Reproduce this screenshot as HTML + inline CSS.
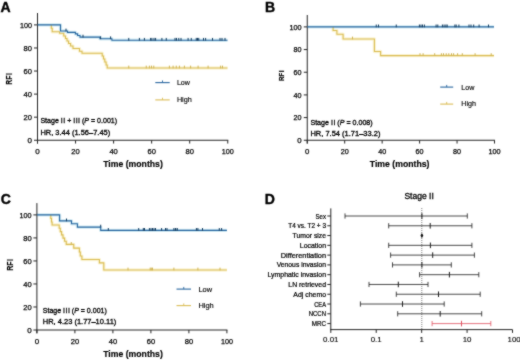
<!DOCTYPE html>
<html><head><meta charset="utf-8"><style>
html,body{margin:0;padding:0;background:#fff;width:520px;height:360px;overflow:hidden;}
svg{display:block;font-family:"Liberation Sans", sans-serif;will-change:transform;}
</style></head><body>
<svg width="520" height="360" viewBox="0 0 520 360">
<defs><filter id="soft" x="0" y="0" width="520" height="360" filterUnits="userSpaceOnUse" color-interpolation-filters="sRGB"><feConvolveMatrix order="3" kernelMatrix="1 2 1 2 16 2 1 2 1" divisor="28" edgeMode="duplicate" preserveAlpha="false"/></filter></defs>
<rect width="520" height="360" fill="#fff"/>
<g filter="url(#soft)">
<rect width="520" height="360" fill="#fff"/>
<polyline points="51.3,24.9 51.3,28.3 52.2,28.3 52.2,31.7 59.6,31.7 59.6,33.3 63.75,33.3 63.75,36.0 65.5,36.0 65.5,38.5 67.0,38.5 67.0,41.0 68.6,41.0 68.6,43.5 70.6,43.5 70.6,46.0 73.0,46.0 73.0,48.5 79.5,48.5 79.5,51.2 82.0,51.2 82.0,53.3 102.2,53.3 102.2,56.0 103.5,56.0 103.5,59.0 104.8,59.0 104.8,62.0 106.1,62.0 106.1,65.0 107.2,65.0 107.2,68.0 227.5,68.0" fill="none" stroke="#fbf5d8" stroke-width="3.4" stroke-linejoin="round"/>
<polyline points="37.5,24.9 60.5,24.9 60.5,31.0 67.5,31.0 67.5,32.4 75.4,32.4 75.4,33.9 77.6,33.9 77.6,35.5 80.0,35.5 80.0,37.1 100.0,37.1 100.0,38.75 111.9,38.75 111.9,40.3 227.5,40.3" fill="none" stroke="#d6eef5" stroke-width="3.4" stroke-linejoin="round"/>
<polyline points="333.1,26.9 333.1,30.5 336.9,30.5 336.9,34.25 343.1,34.25 343.1,39.0 374.4,39.0 374.4,51.5 380.6,51.5 380.6,55.6 494.0,55.6" fill="none" stroke="#fbf5d8" stroke-width="3.4" stroke-linejoin="round"/>
<polyline points="307.25,26.9 494.0,26.9" fill="none" stroke="#d6eef5" stroke-width="3.4" stroke-linejoin="round"/>
<polyline points="50.8,214.9 50.8,218.5 51.5,218.5 51.5,222.0 52.1,222.0 52.1,225.0 59.2,225.0 59.2,228.3 60.3,228.3 60.3,231.6 61.6,231.6 61.6,234.9 63.0,234.9 63.0,238.1 64.6,238.1 64.6,241.3 66.25,241.3 66.25,244.4 73.75,244.4 73.75,248.1 79.4,248.1 79.4,252.0 80.3,252.0 80.3,256.0 81.9,256.0 81.9,259.5 99.4,259.5 99.4,262.9 103.8,262.9 103.8,270.0 226.9,270.0" fill="none" stroke="#fbf5d8" stroke-width="3.4" stroke-linejoin="round"/>
<polyline points="36.9,214.9 59.6,214.9 59.6,220.9 71.5,220.9 71.5,223.75 77.4,223.75 77.4,227.1 100.7,227.1 100.7,230.4 226.9,230.4" fill="none" stroke="#d6eef5" stroke-width="3.4" stroke-linejoin="round"/>
<text x="0.6" y="12.2" font-size="14" font-weight="bold" text-anchor="start" fill="#000" stroke="#000" stroke-width="0.4">A</text>
<line x1="37.5" y1="13" x2="37.5" y2="143.55" stroke="#262626" stroke-width="1"/>
<line x1="37.0" y1="140.25" x2="228.25" y2="140.25" stroke="#262626" stroke-width="1"/>
<line x1="34.0" y1="140.25" x2="37.5" y2="140.25" stroke="#262626" stroke-width="1"/>
<text x="32.0" y="143.05" font-size="8.0" text-anchor="end" fill="#000" stroke="#000" stroke-width="0.25">0</text>
<line x1="34.0" y1="117.18" x2="37.5" y2="117.18" stroke="#262626" stroke-width="1"/>
<text x="32.0" y="119.98" font-size="8.0" text-anchor="end" fill="#000" stroke="#000" stroke-width="0.25" textLength="8.4" lengthAdjust="spacingAndGlyphs">20</text>
<line x1="34.0" y1="94.11" x2="37.5" y2="94.11" stroke="#262626" stroke-width="1"/>
<text x="32.0" y="96.91" font-size="8.0" text-anchor="end" fill="#000" stroke="#000" stroke-width="0.25" textLength="8.4" lengthAdjust="spacingAndGlyphs">40</text>
<line x1="34.0" y1="71.04" x2="37.5" y2="71.04" stroke="#262626" stroke-width="1"/>
<text x="32.0" y="73.84" font-size="8.0" text-anchor="end" fill="#000" stroke="#000" stroke-width="0.25" textLength="8.4" lengthAdjust="spacingAndGlyphs">60</text>
<line x1="34.0" y1="47.97" x2="37.5" y2="47.97" stroke="#262626" stroke-width="1"/>
<text x="32.0" y="50.77" font-size="8.0" text-anchor="end" fill="#000" stroke="#000" stroke-width="0.25" textLength="8.4" lengthAdjust="spacingAndGlyphs">80</text>
<line x1="34.0" y1="24.9" x2="37.5" y2="24.9" stroke="#262626" stroke-width="1"/>
<text x="32.0" y="27.7" font-size="8.0" text-anchor="end" fill="#000" stroke="#000" stroke-width="0.25" textLength="12.0" lengthAdjust="spacingAndGlyphs">100</text>
<line x1="37.5" y1="140.25" x2="37.5" y2="143.55" stroke="#262626" stroke-width="1"/>
<text x="37.5" y="153.6" font-size="8.0" text-anchor="middle" fill="#000" stroke="#000" stroke-width="0.25">0</text>
<line x1="75.55" y1="140.25" x2="75.55" y2="143.55" stroke="#262626" stroke-width="1"/>
<text x="75.55" y="153.6" font-size="8.0" text-anchor="middle" fill="#000" stroke="#000" stroke-width="0.25" textLength="8.4" lengthAdjust="spacingAndGlyphs">20</text>
<line x1="113.6" y1="140.25" x2="113.6" y2="143.55" stroke="#262626" stroke-width="1"/>
<text x="113.6" y="153.6" font-size="8.0" text-anchor="middle" fill="#000" stroke="#000" stroke-width="0.25" textLength="8.4" lengthAdjust="spacingAndGlyphs">40</text>
<line x1="151.65" y1="140.25" x2="151.65" y2="143.55" stroke="#262626" stroke-width="1"/>
<text x="151.65" y="153.6" font-size="8.0" text-anchor="middle" fill="#000" stroke="#000" stroke-width="0.25" textLength="8.4" lengthAdjust="spacingAndGlyphs">60</text>
<line x1="189.7" y1="140.25" x2="189.7" y2="143.55" stroke="#262626" stroke-width="1"/>
<text x="189.7" y="153.6" font-size="8.0" text-anchor="middle" fill="#000" stroke="#000" stroke-width="0.25" textLength="8.4" lengthAdjust="spacingAndGlyphs">80</text>
<line x1="227.75" y1="140.25" x2="227.75" y2="143.55" stroke="#262626" stroke-width="1"/>
<text x="227.75" y="153.6" font-size="8.0" text-anchor="middle" fill="#000" stroke="#000" stroke-width="0.25" textLength="12.0" lengthAdjust="spacingAndGlyphs">100</text>
<text x="12.0" y="79" font-size="8.3" font-weight="bold" text-anchor="middle" fill="#000" stroke="#000" stroke-width="0.15" textLength="11.6" lengthAdjust="spacingAndGlyphs" transform="rotate(-90 12.0 79)">RF<tspan dx="0.7">I</tspan></text>
<text x="103.2" y="167.4" font-size="8.3" font-weight="bold" text-anchor="start" fill="#000" stroke="#000" stroke-width="0.15" textLength="59.6" lengthAdjust="spacingAndGlyphs">Time (months)</text>
<polyline points="51.3,24.9 51.3,28.3 52.2,28.3 52.2,31.7 59.6,31.7 59.6,33.3 63.75,33.3 63.75,36.0 65.5,36.0 65.5,38.5 67.0,38.5 67.0,41.0 68.6,41.0 68.6,43.5 70.6,43.5 70.6,46.0 73.0,46.0 73.0,48.5 79.5,48.5 79.5,51.2 82.0,51.2 82.0,53.3 102.2,53.3 102.2,56.0 103.5,56.0 103.5,59.0 104.8,59.0 104.8,62.0 106.1,62.0 106.1,65.0 107.2,65.0 107.2,68.0 227.5,68.0" fill="none" stroke="#dbbd55" stroke-width="1.1" stroke-linejoin="miter"/>
<polyline points="37.5,24.9 60.5,24.9 60.5,31.0 67.5,31.0 67.5,32.4 75.4,32.4 75.4,33.9 77.6,33.9 77.6,35.5 80.0,35.5 80.0,37.1 100.0,37.1 100.0,38.75 111.9,38.75 111.9,40.3 227.5,40.3" fill="none" stroke="#2866a0" stroke-width="1.1" stroke-linejoin="miter"/>
<line x1="66.0" y1="28.6" x2="66.0" y2="31.4" stroke="#153d60" stroke-width="1.0"/>
<line x1="83.0" y1="34.7" x2="83.0" y2="37.5" stroke="#153d60" stroke-width="1.0"/>
<line x1="100.6" y1="36.35" x2="100.6" y2="39.15" stroke="#153d60" stroke-width="1.0"/>
<line x1="110.6" y1="36.35" x2="110.6" y2="39.15" stroke="#153d60" stroke-width="1.0"/>
<line x1="128.75" y1="37.9" x2="128.75" y2="40.7" stroke="#153d60" stroke-width="1.0"/>
<line x1="139.4" y1="37.9" x2="139.4" y2="40.7" stroke="#153d60" stroke-width="1.0"/>
<line x1="144.4" y1="37.9" x2="144.4" y2="40.7" stroke="#153d60" stroke-width="1.0"/>
<line x1="150.6" y1="37.9" x2="150.6" y2="40.7" stroke="#153d60" stroke-width="1.0"/>
<line x1="151.9" y1="37.9" x2="151.9" y2="40.7" stroke="#153d60" stroke-width="1.0"/>
<line x1="154" y1="37.9" x2="154" y2="40.7" stroke="#153d60" stroke-width="1.0"/>
<line x1="155.6" y1="37.9" x2="155.6" y2="40.7" stroke="#153d60" stroke-width="1.0"/>
<line x1="161.9" y1="37.9" x2="161.9" y2="40.7" stroke="#153d60" stroke-width="1.0"/>
<line x1="166.25" y1="37.9" x2="166.25" y2="40.7" stroke="#153d60" stroke-width="1.0"/>
<line x1="175" y1="37.9" x2="175" y2="40.7" stroke="#153d60" stroke-width="1.0"/>
<line x1="176.5" y1="37.9" x2="176.5" y2="40.7" stroke="#153d60" stroke-width="1.0"/>
<line x1="178.75" y1="37.9" x2="178.75" y2="40.7" stroke="#153d60" stroke-width="1.0"/>
<line x1="181" y1="37.9" x2="181" y2="40.7" stroke="#153d60" stroke-width="1.0"/>
<line x1="188.1" y1="37.9" x2="188.1" y2="40.7" stroke="#153d60" stroke-width="1.0"/>
<line x1="191.25" y1="37.9" x2="191.25" y2="40.7" stroke="#153d60" stroke-width="1.0"/>
<line x1="196.25" y1="37.9" x2="196.25" y2="40.7" stroke="#153d60" stroke-width="1.0"/>
<line x1="197.5" y1="37.9" x2="197.5" y2="40.7" stroke="#153d60" stroke-width="1.0"/>
<line x1="198.75" y1="37.9" x2="198.75" y2="40.7" stroke="#153d60" stroke-width="1.0"/>
<line x1="203.5" y1="37.9" x2="203.5" y2="40.7" stroke="#153d60" stroke-width="1.0"/>
<line x1="205.6" y1="37.9" x2="205.6" y2="40.7" stroke="#153d60" stroke-width="1.0"/>
<line x1="212.5" y1="37.9" x2="212.5" y2="40.7" stroke="#153d60" stroke-width="1.0"/>
<line x1="220" y1="37.9" x2="220" y2="40.7" stroke="#153d60" stroke-width="1.0"/>
<line x1="222" y1="37.9" x2="222" y2="40.7" stroke="#153d60" stroke-width="1.0"/>
<line x1="225" y1="37.9" x2="225" y2="40.7" stroke="#153d60" stroke-width="1.0"/>
<line x1="128.75" y1="65.6" x2="128.75" y2="68.4" stroke="#d0b455" stroke-width="1.0"/>
<line x1="146.25" y1="65.6" x2="146.25" y2="68.4" stroke="#d0b455" stroke-width="1.0"/>
<line x1="149.4" y1="65.6" x2="149.4" y2="68.4" stroke="#d0b455" stroke-width="1.0"/>
<line x1="151.5" y1="65.6" x2="151.5" y2="68.4" stroke="#d0b455" stroke-width="1.0"/>
<line x1="153.75" y1="65.6" x2="153.75" y2="68.4" stroke="#d0b455" stroke-width="1.0"/>
<line x1="169.4" y1="65.6" x2="169.4" y2="68.4" stroke="#d0b455" stroke-width="1.0"/>
<line x1="173.1" y1="65.6" x2="173.1" y2="68.4" stroke="#d0b455" stroke-width="1.0"/>
<line x1="176.25" y1="65.6" x2="176.25" y2="68.4" stroke="#d0b455" stroke-width="1.0"/>
<line x1="179.4" y1="65.6" x2="179.4" y2="68.4" stroke="#d0b455" stroke-width="1.0"/>
<line x1="184.4" y1="65.6" x2="184.4" y2="68.4" stroke="#d0b455" stroke-width="1.0"/>
<line x1="190.6" y1="65.6" x2="190.6" y2="68.4" stroke="#d0b455" stroke-width="1.0"/>
<line x1="198.1" y1="65.6" x2="198.1" y2="68.4" stroke="#d0b455" stroke-width="1.0"/>
<line x1="208.1" y1="65.6" x2="208.1" y2="68.4" stroke="#d0b455" stroke-width="1.0"/>
<line x1="220.6" y1="65.6" x2="220.6" y2="68.4" stroke="#d0b455" stroke-width="1.0"/>
<line x1="222.5" y1="65.6" x2="222.5" y2="68.4" stroke="#d0b455" stroke-width="1.0"/>
<line x1="155.3" y1="82.6" x2="169.7" y2="82.6" stroke="#2866a0" stroke-width="1.1"/>
<line x1="162.5" y1="80.4" x2="162.5" y2="82.6" stroke="#2866a0" stroke-width="0.9"/>
<text x="176.9" y="84.6" font-size="7.6" text-anchor="start" fill="#000" stroke="#000" stroke-width="0.15" textLength="13.0" lengthAdjust="spacingAndGlyphs">Low</text>
<line x1="155.3" y1="99.9" x2="169.7" y2="99.9" stroke="#dbbd55" stroke-width="1.1"/>
<line x1="162.5" y1="97.7" x2="162.5" y2="99.9" stroke="#dbbd55" stroke-width="0.9"/>
<text x="176.9" y="101.6" font-size="7.6" text-anchor="start" fill="#000" stroke="#000" stroke-width="0.15" textLength="14.9" lengthAdjust="spacingAndGlyphs">High</text>
<text x="40.4" y="122.8" font-size="7.4" text-anchor="start" fill="#000" stroke="#000" stroke-width="0.3" textLength="76.7" lengthAdjust="spacingAndGlyphs">Stage I<tspan dx="0.5">I</tspan> + I<tspan dx="0.5">I</tspan><tspan dx="0.5">I</tspan> (<tspan font-style="italic">P</tspan> = 0.001)</text>
<text x="40.4" y="135.0" font-size="7.4" text-anchor="start" fill="#000" stroke="#000" stroke-width="0.3" textLength="69.8" lengthAdjust="spacingAndGlyphs">HR, 3.44 (1.56–7.45)</text>
<text x="265.0" y="12.3" font-size="14" font-weight="bold" text-anchor="start" fill="#000" stroke="#000" stroke-width="0.4">B</text>
<line x1="307.25" y1="15" x2="307.25" y2="143.55" stroke="#262626" stroke-width="1"/>
<line x1="306.75" y1="140.25" x2="495.0" y2="140.25" stroke="#262626" stroke-width="1"/>
<line x1="303.75" y1="140.25" x2="307.25" y2="140.25" stroke="#262626" stroke-width="1"/>
<text x="301.6" y="143.05" font-size="7.8" text-anchor="end" fill="#000" stroke="#000" stroke-width="0.25">0</text>
<line x1="303.75" y1="117.58" x2="307.25" y2="117.58" stroke="#262626" stroke-width="1"/>
<text x="301.6" y="120.38" font-size="7.8" text-anchor="end" fill="#000" stroke="#000" stroke-width="0.25" textLength="8.0" lengthAdjust="spacingAndGlyphs">20</text>
<line x1="303.75" y1="94.91" x2="307.25" y2="94.91" stroke="#262626" stroke-width="1"/>
<text x="301.6" y="97.71" font-size="7.8" text-anchor="end" fill="#000" stroke="#000" stroke-width="0.25" textLength="8.0" lengthAdjust="spacingAndGlyphs">40</text>
<line x1="303.75" y1="72.24" x2="307.25" y2="72.24" stroke="#262626" stroke-width="1"/>
<text x="301.6" y="75.04" font-size="7.8" text-anchor="end" fill="#000" stroke="#000" stroke-width="0.25" textLength="8.0" lengthAdjust="spacingAndGlyphs">60</text>
<line x1="303.75" y1="49.57" x2="307.25" y2="49.57" stroke="#262626" stroke-width="1"/>
<text x="301.6" y="52.37" font-size="7.8" text-anchor="end" fill="#000" stroke="#000" stroke-width="0.25" textLength="8.0" lengthAdjust="spacingAndGlyphs">80</text>
<line x1="303.75" y1="26.9" x2="307.25" y2="26.9" stroke="#262626" stroke-width="1"/>
<text x="301.6" y="29.7" font-size="7.8" text-anchor="end" fill="#000" stroke="#000" stroke-width="0.25" textLength="12.2" lengthAdjust="spacingAndGlyphs">100</text>
<line x1="307.25" y1="140.25" x2="307.25" y2="143.55" stroke="#262626" stroke-width="1"/>
<text x="307.25" y="153.6" font-size="7.8" text-anchor="middle" fill="#000" stroke="#000" stroke-width="0.25">0</text>
<line x1="344.7" y1="140.25" x2="344.7" y2="143.55" stroke="#262626" stroke-width="1"/>
<text x="344.7" y="153.6" font-size="7.8" text-anchor="middle" fill="#000" stroke="#000" stroke-width="0.25" textLength="8.0" lengthAdjust="spacingAndGlyphs">20</text>
<line x1="382.15" y1="140.25" x2="382.15" y2="143.55" stroke="#262626" stroke-width="1"/>
<text x="382.15" y="153.6" font-size="7.8" text-anchor="middle" fill="#000" stroke="#000" stroke-width="0.25" textLength="8.0" lengthAdjust="spacingAndGlyphs">40</text>
<line x1="419.6" y1="140.25" x2="419.6" y2="143.55" stroke="#262626" stroke-width="1"/>
<text x="419.6" y="153.6" font-size="7.8" text-anchor="middle" fill="#000" stroke="#000" stroke-width="0.25" textLength="8.0" lengthAdjust="spacingAndGlyphs">60</text>
<line x1="457.05" y1="140.25" x2="457.05" y2="143.55" stroke="#262626" stroke-width="1"/>
<text x="457.05" y="153.6" font-size="7.8" text-anchor="middle" fill="#000" stroke="#000" stroke-width="0.25" textLength="8.0" lengthAdjust="spacingAndGlyphs">80</text>
<line x1="494.5" y1="140.25" x2="494.5" y2="143.55" stroke="#262626" stroke-width="1"/>
<text x="494.5" y="153.6" font-size="7.8" text-anchor="middle" fill="#000" stroke="#000" stroke-width="0.25" textLength="12.2" lengthAdjust="spacingAndGlyphs">100</text>
<text x="284.3" y="75.8" font-size="7.6" font-weight="bold" text-anchor="middle" fill="#000" stroke="#000" stroke-width="0.15" textLength="10.5" lengthAdjust="spacingAndGlyphs" transform="rotate(-90 284.3 75.8)">RF<tspan dx="0.6">I</tspan></text>
<text x="369.8" y="167.4" font-size="8.3" font-weight="bold" text-anchor="start" fill="#000" stroke="#000" stroke-width="0.15" textLength="59.6" lengthAdjust="spacingAndGlyphs">Time (months)</text>
<polyline points="333.1,26.9 333.1,30.5 336.9,30.5 336.9,34.25 343.1,34.25 343.1,39.0 374.4,39.0 374.4,51.5 380.6,51.5 380.6,55.6 494.0,55.6" fill="none" stroke="#dbbd55" stroke-width="1.1" stroke-linejoin="miter"/>
<polyline points="307.25,26.9 494.0,26.9" fill="none" stroke="#2866a0" stroke-width="1.1" stroke-linejoin="miter"/>
<line x1="376.25" y1="24.5" x2="376.25" y2="27.3" stroke="#153d60" stroke-width="1.0"/>
<line x1="378.5" y1="24.5" x2="378.5" y2="27.3" stroke="#153d60" stroke-width="1.0"/>
<line x1="396.25" y1="24.5" x2="396.25" y2="27.3" stroke="#153d60" stroke-width="1.0"/>
<line x1="419.4" y1="24.5" x2="419.4" y2="27.3" stroke="#153d60" stroke-width="1.0"/>
<line x1="421" y1="24.5" x2="421" y2="27.3" stroke="#153d60" stroke-width="1.0"/>
<line x1="422.5" y1="24.5" x2="422.5" y2="27.3" stroke="#153d60" stroke-width="1.0"/>
<line x1="424.4" y1="24.5" x2="424.4" y2="27.3" stroke="#153d60" stroke-width="1.0"/>
<line x1="436.1" y1="24.5" x2="436.1" y2="27.3" stroke="#153d60" stroke-width="1.0"/>
<line x1="437.8" y1="24.5" x2="437.8" y2="27.3" stroke="#153d60" stroke-width="1.0"/>
<line x1="442.4" y1="24.5" x2="442.4" y2="27.3" stroke="#153d60" stroke-width="1.0"/>
<line x1="444.1" y1="24.5" x2="444.1" y2="27.3" stroke="#153d60" stroke-width="1.0"/>
<line x1="445.9" y1="24.5" x2="445.9" y2="27.3" stroke="#153d60" stroke-width="1.0"/>
<line x1="447.2" y1="24.5" x2="447.2" y2="27.3" stroke="#153d60" stroke-width="1.0"/>
<line x1="454.9" y1="24.5" x2="454.9" y2="27.3" stroke="#153d60" stroke-width="1.0"/>
<line x1="456.2" y1="24.5" x2="456.2" y2="27.3" stroke="#153d60" stroke-width="1.0"/>
<line x1="458.9" y1="24.5" x2="458.9" y2="27.3" stroke="#153d60" stroke-width="1.0"/>
<line x1="469" y1="24.5" x2="469" y2="27.3" stroke="#153d60" stroke-width="1.0"/>
<line x1="471" y1="24.5" x2="471" y2="27.3" stroke="#153d60" stroke-width="1.0"/>
<line x1="473.7" y1="24.5" x2="473.7" y2="27.3" stroke="#153d60" stroke-width="1.0"/>
<line x1="479.1" y1="24.5" x2="479.1" y2="27.3" stroke="#153d60" stroke-width="1.0"/>
<line x1="488.5" y1="24.5" x2="488.5" y2="27.3" stroke="#153d60" stroke-width="1.0"/>
<line x1="352.5" y1="36.6" x2="352.5" y2="39.4" stroke="#d0b455" stroke-width="1.0"/>
<line x1="420" y1="53.2" x2="420" y2="56.0" stroke="#d0b455" stroke-width="1.0"/>
<line x1="423.1" y1="53.2" x2="423.1" y2="56.0" stroke="#d0b455" stroke-width="1.0"/>
<line x1="434.7" y1="53.2" x2="434.7" y2="56.0" stroke="#d0b455" stroke-width="1.0"/>
<line x1="441.4" y1="53.2" x2="441.4" y2="56.0" stroke="#d0b455" stroke-width="1.0"/>
<line x1="443.5" y1="53.2" x2="443.5" y2="56.0" stroke="#d0b455" stroke-width="1.0"/>
<line x1="446.2" y1="53.2" x2="446.2" y2="56.0" stroke="#d0b455" stroke-width="1.0"/>
<line x1="448.8" y1="53.2" x2="448.8" y2="56.0" stroke="#d0b455" stroke-width="1.0"/>
<line x1="451.5" y1="53.2" x2="451.5" y2="56.0" stroke="#d0b455" stroke-width="1.0"/>
<line x1="453.6" y1="53.2" x2="453.6" y2="56.0" stroke="#d0b455" stroke-width="1.0"/>
<line x1="457.6" y1="53.2" x2="457.6" y2="56.0" stroke="#d0b455" stroke-width="1.0"/>
<line x1="462.3" y1="53.2" x2="462.3" y2="56.0" stroke="#d0b455" stroke-width="1.0"/>
<line x1="475.1" y1="53.2" x2="475.1" y2="56.0" stroke="#d0b455" stroke-width="1.0"/>
<line x1="491.2" y1="53.2" x2="491.2" y2="56.0" stroke="#d0b455" stroke-width="1.0"/>
<line x1="440.2" y1="87.1" x2="453.2" y2="87.1" stroke="#2866a0" stroke-width="1.1"/>
<line x1="446.7" y1="84.9" x2="446.7" y2="87.1" stroke="#2866a0" stroke-width="0.9"/>
<text x="461.3" y="89.6" font-size="7.6" text-anchor="start" fill="#000" stroke="#000" stroke-width="0.15" textLength="13.1" lengthAdjust="spacingAndGlyphs">Low</text>
<line x1="440.2" y1="104.1" x2="453.2" y2="104.1" stroke="#dbbd55" stroke-width="1.1"/>
<line x1="446.7" y1="101.9" x2="446.7" y2="104.1" stroke="#dbbd55" stroke-width="0.9"/>
<text x="461.3" y="105.9" font-size="7.6" text-anchor="start" fill="#000" stroke="#000" stroke-width="0.15" textLength="14.7" lengthAdjust="spacingAndGlyphs">High</text>
<text x="310.4" y="124.6" font-size="7.4" text-anchor="start" fill="#000" stroke="#000" stroke-width="0.3" textLength="62.3" lengthAdjust="spacingAndGlyphs">Stage I<tspan dx="0.5">I</tspan> (<tspan font-style="italic">P</tspan> = 0.008)</text>
<text x="310.4" y="136.1" font-size="7.4" text-anchor="start" fill="#000" stroke="#000" stroke-width="0.3" textLength="70.0" lengthAdjust="spacingAndGlyphs">HR, 7.54 (1.71–33.2)</text>
<text x="0.8" y="204.2" font-size="14" font-weight="bold" text-anchor="start" fill="#000" stroke="#000" stroke-width="0.4">C</text>
<line x1="36.9" y1="203.1" x2="36.9" y2="333.3" stroke="#262626" stroke-width="1"/>
<line x1="36.4" y1="330.0" x2="227.4" y2="330.0" stroke="#262626" stroke-width="1"/>
<line x1="33.4" y1="330.0" x2="36.9" y2="330.0" stroke="#262626" stroke-width="1"/>
<text x="31.6" y="332.8" font-size="8.0" text-anchor="end" fill="#000" stroke="#000" stroke-width="0.25">0</text>
<line x1="33.4" y1="306.98" x2="36.9" y2="306.98" stroke="#262626" stroke-width="1"/>
<text x="31.6" y="309.78" font-size="8.0" text-anchor="end" fill="#000" stroke="#000" stroke-width="0.25" textLength="8.4" lengthAdjust="spacingAndGlyphs">20</text>
<line x1="33.4" y1="283.96" x2="36.9" y2="283.96" stroke="#262626" stroke-width="1"/>
<text x="31.6" y="286.76" font-size="8.0" text-anchor="end" fill="#000" stroke="#000" stroke-width="0.25" textLength="8.4" lengthAdjust="spacingAndGlyphs">40</text>
<line x1="33.4" y1="260.94" x2="36.9" y2="260.94" stroke="#262626" stroke-width="1"/>
<text x="31.6" y="263.74" font-size="8.0" text-anchor="end" fill="#000" stroke="#000" stroke-width="0.25" textLength="8.4" lengthAdjust="spacingAndGlyphs">60</text>
<line x1="33.4" y1="237.92" x2="36.9" y2="237.92" stroke="#262626" stroke-width="1"/>
<text x="31.6" y="240.72" font-size="8.0" text-anchor="end" fill="#000" stroke="#000" stroke-width="0.25" textLength="8.4" lengthAdjust="spacingAndGlyphs">80</text>
<line x1="33.4" y1="214.9" x2="36.9" y2="214.9" stroke="#262626" stroke-width="1"/>
<text x="31.6" y="217.7" font-size="8.0" text-anchor="end" fill="#000" stroke="#000" stroke-width="0.25" textLength="12.0" lengthAdjust="spacingAndGlyphs">100</text>
<line x1="36.9" y1="330.0" x2="36.9" y2="333.3" stroke="#262626" stroke-width="1"/>
<text x="36.9" y="343.8" font-size="8.0" text-anchor="middle" fill="#000" stroke="#000" stroke-width="0.25">0</text>
<line x1="74.9" y1="330.0" x2="74.9" y2="333.3" stroke="#262626" stroke-width="1"/>
<text x="74.9" y="343.8" font-size="8.0" text-anchor="middle" fill="#000" stroke="#000" stroke-width="0.25" textLength="8.4" lengthAdjust="spacingAndGlyphs">20</text>
<line x1="112.9" y1="330.0" x2="112.9" y2="333.3" stroke="#262626" stroke-width="1"/>
<text x="112.9" y="343.8" font-size="8.0" text-anchor="middle" fill="#000" stroke="#000" stroke-width="0.25" textLength="8.4" lengthAdjust="spacingAndGlyphs">40</text>
<line x1="150.9" y1="330.0" x2="150.9" y2="333.3" stroke="#262626" stroke-width="1"/>
<text x="150.9" y="343.8" font-size="8.0" text-anchor="middle" fill="#000" stroke="#000" stroke-width="0.25" textLength="8.4" lengthAdjust="spacingAndGlyphs">60</text>
<line x1="188.9" y1="330.0" x2="188.9" y2="333.3" stroke="#262626" stroke-width="1"/>
<text x="188.9" y="343.8" font-size="8.0" text-anchor="middle" fill="#000" stroke="#000" stroke-width="0.25" textLength="8.4" lengthAdjust="spacingAndGlyphs">80</text>
<line x1="226.9" y1="330.0" x2="226.9" y2="333.3" stroke="#262626" stroke-width="1"/>
<text x="226.9" y="343.8" font-size="8.0" text-anchor="middle" fill="#000" stroke="#000" stroke-width="0.25" textLength="12.0" lengthAdjust="spacingAndGlyphs">100</text>
<text x="13.3" y="264.9" font-size="8.3" font-weight="bold" text-anchor="middle" fill="#000" stroke="#000" stroke-width="0.15" textLength="11.9" lengthAdjust="spacingAndGlyphs" transform="rotate(-90 13.3 264.9)">RF<tspan dx="0.7">I</tspan></text>
<text x="103.2" y="357.0" font-size="8.3" font-weight="bold" text-anchor="start" fill="#000" stroke="#000" stroke-width="0.15" textLength="59.6" lengthAdjust="spacingAndGlyphs">Time (months)</text>
<polyline points="50.8,214.9 50.8,218.5 51.5,218.5 51.5,222.0 52.1,222.0 52.1,225.0 59.2,225.0 59.2,228.3 60.3,228.3 60.3,231.6 61.6,231.6 61.6,234.9 63.0,234.9 63.0,238.1 64.6,238.1 64.6,241.3 66.25,241.3 66.25,244.4 73.75,244.4 73.75,248.1 79.4,248.1 79.4,252.0 80.3,252.0 80.3,256.0 81.9,256.0 81.9,259.5 99.4,259.5 99.4,262.9 103.8,262.9 103.8,270.0 226.9,270.0" fill="none" stroke="#dbbd55" stroke-width="1.1" stroke-linejoin="miter"/>
<polyline points="36.9,214.9 59.6,214.9 59.6,220.9 71.5,220.9 71.5,223.75 77.4,223.75 77.4,227.1 100.7,227.1 100.7,230.4 226.9,230.4" fill="none" stroke="#2866a0" stroke-width="1.1" stroke-linejoin="miter"/>
<line x1="66.5" y1="218.5" x2="66.5" y2="221.3" stroke="#153d60" stroke-width="1.0"/>
<line x1="100.7" y1="224.7" x2="100.7" y2="227.5" stroke="#153d60" stroke-width="1.0"/>
<line x1="108.3" y1="228.0" x2="108.3" y2="230.8" stroke="#153d60" stroke-width="1.0"/>
<line x1="138.7" y1="228.0" x2="138.7" y2="230.8" stroke="#153d60" stroke-width="1.0"/>
<line x1="143.3" y1="228.0" x2="143.3" y2="230.8" stroke="#153d60" stroke-width="1.0"/>
<line x1="144.5" y1="228.0" x2="144.5" y2="230.8" stroke="#153d60" stroke-width="1.0"/>
<line x1="149.4" y1="228.0" x2="149.4" y2="230.8" stroke="#153d60" stroke-width="1.0"/>
<line x1="151" y1="228.0" x2="151" y2="230.8" stroke="#153d60" stroke-width="1.0"/>
<line x1="152.5" y1="228.0" x2="152.5" y2="230.8" stroke="#153d60" stroke-width="1.0"/>
<line x1="154" y1="228.0" x2="154" y2="230.8" stroke="#153d60" stroke-width="1.0"/>
<line x1="155.5" y1="228.0" x2="155.5" y2="230.8" stroke="#153d60" stroke-width="1.0"/>
<line x1="161.6" y1="228.0" x2="161.6" y2="230.8" stroke="#153d60" stroke-width="1.0"/>
<line x1="165.5" y1="228.0" x2="165.5" y2="230.8" stroke="#153d60" stroke-width="1.0"/>
<line x1="167" y1="228.0" x2="167" y2="230.8" stroke="#153d60" stroke-width="1.0"/>
<line x1="173.9" y1="228.0" x2="173.9" y2="230.8" stroke="#153d60" stroke-width="1.0"/>
<line x1="175.4" y1="228.0" x2="175.4" y2="230.8" stroke="#153d60" stroke-width="1.0"/>
<line x1="175.8" y1="228.0" x2="175.8" y2="230.8" stroke="#153d60" stroke-width="1.0"/>
<line x1="177.3" y1="228.0" x2="177.3" y2="230.8" stroke="#153d60" stroke-width="1.0"/>
<line x1="196.4" y1="228.0" x2="196.4" y2="230.8" stroke="#153d60" stroke-width="1.0"/>
<line x1="197.9" y1="228.0" x2="197.9" y2="230.8" stroke="#153d60" stroke-width="1.0"/>
<line x1="202.5" y1="228.0" x2="202.5" y2="230.8" stroke="#153d60" stroke-width="1.0"/>
<line x1="219.3" y1="228.0" x2="219.3" y2="230.8" stroke="#153d60" stroke-width="1.0"/>
<line x1="221.6" y1="228.0" x2="221.6" y2="230.8" stroke="#153d60" stroke-width="1.0"/>
<line x1="71.25" y1="242.0" x2="71.25" y2="244.8" stroke="#d0b455" stroke-width="1.0"/>
<line x1="128" y1="267.6" x2="128" y2="270.4" stroke="#d0b455" stroke-width="1.0"/>
<line x1="150.2" y1="267.6" x2="150.2" y2="270.4" stroke="#d0b455" stroke-width="1.0"/>
<line x1="151.3" y1="267.6" x2="151.3" y2="270.4" stroke="#d0b455" stroke-width="1.0"/>
<line x1="152.5" y1="267.6" x2="152.5" y2="270.4" stroke="#d0b455" stroke-width="1.0"/>
<line x1="173.9" y1="267.6" x2="173.9" y2="270.4" stroke="#d0b455" stroke-width="1.0"/>
<line x1="197.9" y1="267.6" x2="197.9" y2="270.4" stroke="#d0b455" stroke-width="1.0"/>
<line x1="220" y1="267.6" x2="220" y2="270.4" stroke="#d0b455" stroke-width="1.0"/>
<line x1="176.5" y1="289.1" x2="191.0" y2="289.1" stroke="#2866a0" stroke-width="1.1"/>
<line x1="183.75" y1="286.9" x2="183.75" y2="289.1" stroke="#2866a0" stroke-width="0.9"/>
<text x="198.4" y="291.6" font-size="7.9" text-anchor="start" fill="#000" stroke="#000" stroke-width="0.15" textLength="13.6" lengthAdjust="spacingAndGlyphs">Low</text>
<line x1="176.5" y1="305.6" x2="191.0" y2="305.6" stroke="#dbbd55" stroke-width="1.1"/>
<line x1="183.75" y1="303.4" x2="183.75" y2="305.6" stroke="#dbbd55" stroke-width="0.9"/>
<text x="198.4" y="307.8" font-size="7.9" text-anchor="start" fill="#000" stroke="#000" stroke-width="0.15" textLength="15.4" lengthAdjust="spacingAndGlyphs">High</text>
<text x="42.8" y="312.9" font-size="7.4" text-anchor="start" fill="#000" stroke="#000" stroke-width="0.3" textLength="64.0" lengthAdjust="spacingAndGlyphs">Stage I<tspan dx="0.5">I</tspan><tspan dx="0.5">I</tspan> (<tspan font-style="italic">P</tspan> = 0.001)</text>
<text x="42.8" y="323.7" font-size="7.4" text-anchor="start" fill="#000" stroke="#000" stroke-width="0.3" textLength="73.5" lengthAdjust="spacingAndGlyphs">HR, 4.23 (1.77–10.11)</text>
<text x="264.8" y="204.3" font-size="14" font-weight="bold" text-anchor="start" fill="#000" stroke="#000" stroke-width="0.4">D</text>
<text x="404.4" y="198.6" font-size="8.3" text-anchor="start" fill="#000" stroke="#000" stroke-width="0.3" textLength="29.4" lengthAdjust="spacingAndGlyphs">Stage II</text>
<line x1="330.8" y1="208.4" x2="330.8" y2="330.1" stroke="#262626" stroke-width="1"/>
<line x1="330.3" y1="329.6" x2="512.5" y2="329.6" stroke="#262626" stroke-width="1"/>
<line x1="330.8" y1="329.6" x2="330.8" y2="332.9" stroke="#262626" stroke-width="1"/>
<text x="330.8" y="341.9" font-size="7.9" text-anchor="middle" fill="#000" stroke="#000" stroke-width="0.12">0.01</text>
<line x1="376.23" y1="329.6" x2="376.23" y2="332.9" stroke="#262626" stroke-width="1"/>
<text x="376.23" y="341.9" font-size="7.9" text-anchor="middle" fill="#000" stroke="#000" stroke-width="0.12">0.1</text>
<line x1="421.66" y1="329.6" x2="421.66" y2="332.9" stroke="#262626" stroke-width="1"/>
<text x="421.66" y="341.9" font-size="7.9" text-anchor="middle" fill="#000" stroke="#000" stroke-width="0.12">1</text>
<line x1="467.09" y1="329.6" x2="467.09" y2="332.9" stroke="#262626" stroke-width="1"/>
<text x="467.09" y="341.9" font-size="7.9" text-anchor="middle" fill="#000" stroke="#000" stroke-width="0.12">10</text>
<line x1="512.52" y1="329.6" x2="512.52" y2="332.9" stroke="#262626" stroke-width="1"/>
<text x="514.12" y="341.9" font-size="7.9" text-anchor="middle" fill="#000" stroke="#000" stroke-width="0.12" textLength="13.2" lengthAdjust="spacingAndGlyphs">100</text>
<line x1="421.8" y1="208.0" x2="421.8" y2="329.6" stroke="#444" stroke-width="0.7" stroke-dasharray="1,1"/>
<line x1="327.3" y1="216.0" x2="330.8" y2="216.0" stroke="#262626" stroke-width="1"/>
<text x="326.0" y="218.5" font-size="7.1" text-anchor="end" fill="#000" stroke="#000" stroke-width="0.22" textLength="10.5" lengthAdjust="spacingAndGlyphs">Sex</text>
<line x1="345.0" y1="216.0" x2="467.3" y2="216.0" stroke="#1c1c1c" stroke-width="0.8"/>
<line x1="345.0" y1="213.4" x2="345.0" y2="218.6" stroke="#1c1c1c" stroke-width="0.8"/>
<line x1="467.3" y1="213.4" x2="467.3" y2="218.6" stroke="#1c1c1c" stroke-width="0.8"/>
<line x1="421.9" y1="213.2" x2="421.9" y2="218.8" stroke="#1c1c1c" stroke-width="1.0"/>
<line x1="327.3" y1="225.78" x2="330.8" y2="225.78" stroke="#262626" stroke-width="1"/>
<text x="326.0" y="228.28" font-size="7.1" text-anchor="end" fill="#000" stroke="#000" stroke-width="0.22" textLength="37.7" lengthAdjust="spacingAndGlyphs">T4 vs. T2 + 3</text>
<line x1="388.7" y1="225.78" x2="471.9" y2="225.78" stroke="#1c1c1c" stroke-width="0.8"/>
<line x1="388.7" y1="223.18" x2="388.7" y2="228.38" stroke="#1c1c1c" stroke-width="0.8"/>
<line x1="471.9" y1="223.18" x2="471.9" y2="228.38" stroke="#1c1c1c" stroke-width="0.8"/>
<line x1="430.2" y1="222.98" x2="430.2" y2="228.58" stroke="#1c1c1c" stroke-width="1.0"/>
<line x1="327.3" y1="235.56" x2="330.8" y2="235.56" stroke="#262626" stroke-width="1"/>
<text x="326.0" y="238.06" font-size="7.1" text-anchor="end" fill="#000" stroke="#000" stroke-width="0.22" textLength="33.4" lengthAdjust="spacingAndGlyphs">Tumor size</text>
<path d="M421.9,232.96 L423.29999999999995,235.56 L421.9,238.16 L420.5,235.56 Z" fill="#111"/>
<line x1="327.3" y1="245.34" x2="330.8" y2="245.34" stroke="#262626" stroke-width="1"/>
<text x="326.0" y="247.84" font-size="7.1" text-anchor="end" fill="#000" stroke="#000" stroke-width="0.22" textLength="26.2" lengthAdjust="spacingAndGlyphs">Location</text>
<line x1="388.7" y1="245.34" x2="471.9" y2="245.34" stroke="#1c1c1c" stroke-width="0.8"/>
<line x1="388.7" y1="242.74" x2="388.7" y2="247.94" stroke="#1c1c1c" stroke-width="0.8"/>
<line x1="471.9" y1="242.74" x2="471.9" y2="247.94" stroke="#1c1c1c" stroke-width="0.8"/>
<line x1="430.4" y1="242.54" x2="430.4" y2="248.14" stroke="#1c1c1c" stroke-width="1.0"/>
<line x1="327.3" y1="255.12" x2="330.8" y2="255.12" stroke="#262626" stroke-width="1"/>
<text x="326.0" y="257.62" font-size="7.1" text-anchor="end" fill="#000" stroke="#000" stroke-width="0.22" textLength="45.2" lengthAdjust="spacingAndGlyphs">Differentiation</text>
<line x1="390.6" y1="255.12" x2="474.4" y2="255.12" stroke="#1c1c1c" stroke-width="0.8"/>
<line x1="390.6" y1="252.52" x2="390.6" y2="257.72" stroke="#1c1c1c" stroke-width="0.8"/>
<line x1="474.4" y1="252.52" x2="474.4" y2="257.72" stroke="#1c1c1c" stroke-width="0.8"/>
<line x1="432.7" y1="252.32" x2="432.7" y2="257.92" stroke="#1c1c1c" stroke-width="1.0"/>
<line x1="327.3" y1="264.9" x2="330.8" y2="264.9" stroke="#262626" stroke-width="1"/>
<text x="326.0" y="267.4" font-size="7.1" text-anchor="end" fill="#000" stroke="#000" stroke-width="0.22" textLength="49.3" lengthAdjust="spacingAndGlyphs">Venous invasion</text>
<line x1="392.5" y1="264.9" x2="451.3" y2="264.9" stroke="#1c1c1c" stroke-width="0.8"/>
<line x1="392.5" y1="262.3" x2="392.5" y2="267.5" stroke="#1c1c1c" stroke-width="0.8"/>
<line x1="451.3" y1="262.3" x2="451.3" y2="267.5" stroke="#1c1c1c" stroke-width="0.8"/>
<line x1="421.9" y1="262.1" x2="421.9" y2="267.7" stroke="#1c1c1c" stroke-width="1.0"/>
<line x1="327.3" y1="274.68" x2="330.8" y2="274.68" stroke="#262626" stroke-width="1"/>
<text x="326.0" y="277.18" font-size="7.1" text-anchor="end" fill="#000" stroke="#000" stroke-width="0.22" textLength="58.5" lengthAdjust="spacingAndGlyphs">Lymphatic invasion</text>
<line x1="419.6" y1="274.68" x2="478.8" y2="274.68" stroke="#1c1c1c" stroke-width="0.8"/>
<line x1="419.6" y1="272.08" x2="419.6" y2="277.28" stroke="#1c1c1c" stroke-width="0.8"/>
<line x1="478.8" y1="272.08" x2="478.8" y2="277.28" stroke="#1c1c1c" stroke-width="0.8"/>
<line x1="449.4" y1="271.88" x2="449.4" y2="277.48" stroke="#1c1c1c" stroke-width="1.0"/>
<line x1="327.3" y1="284.46" x2="330.8" y2="284.46" stroke="#262626" stroke-width="1"/>
<text x="326.0" y="286.96" font-size="7.1" text-anchor="end" fill="#000" stroke="#000" stroke-width="0.22" textLength="37.7" lengthAdjust="spacingAndGlyphs">LN retrieved</text>
<line x1="369.0" y1="284.46" x2="428.0" y2="284.46" stroke="#1c1c1c" stroke-width="0.8"/>
<line x1="369.0" y1="281.86" x2="369.0" y2="287.06" stroke="#1c1c1c" stroke-width="0.8"/>
<line x1="428.0" y1="281.86" x2="428.0" y2="287.06" stroke="#1c1c1c" stroke-width="0.8"/>
<line x1="398.3" y1="281.66" x2="398.3" y2="287.26" stroke="#1c1c1c" stroke-width="1.0"/>
<line x1="327.3" y1="294.24" x2="330.8" y2="294.24" stroke="#262626" stroke-width="1"/>
<text x="326.0" y="296.74" font-size="7.1" text-anchor="end" fill="#000" stroke="#000" stroke-width="0.22" textLength="32.7" lengthAdjust="spacingAndGlyphs">Adj chemo</text>
<line x1="396.3" y1="294.24" x2="480.2" y2="294.24" stroke="#1c1c1c" stroke-width="0.8"/>
<line x1="396.3" y1="291.64" x2="396.3" y2="296.84" stroke="#1c1c1c" stroke-width="0.8"/>
<line x1="480.2" y1="291.64" x2="480.2" y2="296.84" stroke="#1c1c1c" stroke-width="0.8"/>
<line x1="438.5" y1="291.44" x2="438.5" y2="297.04" stroke="#1c1c1c" stroke-width="1.0"/>
<line x1="327.3" y1="304.02" x2="330.8" y2="304.02" stroke="#262626" stroke-width="1"/>
<text x="326.0" y="306.52" font-size="7.1" text-anchor="end" fill="#000" stroke="#000" stroke-width="0.22" textLength="11.8" lengthAdjust="spacingAndGlyphs">CEA</text>
<line x1="360.4" y1="304.02" x2="444.2" y2="304.02" stroke="#1c1c1c" stroke-width="0.8"/>
<line x1="360.4" y1="301.42" x2="360.4" y2="306.62" stroke="#1c1c1c" stroke-width="0.8"/>
<line x1="444.2" y1="301.42" x2="444.2" y2="306.62" stroke="#1c1c1c" stroke-width="0.8"/>
<line x1="402.5" y1="301.22" x2="402.5" y2="306.82" stroke="#1c1c1c" stroke-width="1.0"/>
<line x1="327.3" y1="313.8" x2="330.8" y2="313.8" stroke="#262626" stroke-width="1"/>
<text x="326.0" y="316.3" font-size="7.1" text-anchor="end" fill="#000" stroke="#000" stroke-width="0.22" textLength="17.3" lengthAdjust="spacingAndGlyphs">NCCN</text>
<line x1="397.7" y1="313.8" x2="481.7" y2="313.8" stroke="#1c1c1c" stroke-width="0.8"/>
<line x1="397.7" y1="311.2" x2="397.7" y2="316.4" stroke="#1c1c1c" stroke-width="0.8"/>
<line x1="481.7" y1="311.2" x2="481.7" y2="316.4" stroke="#1c1c1c" stroke-width="0.8"/>
<line x1="440.2" y1="311.0" x2="440.2" y2="316.6" stroke="#1c1c1c" stroke-width="1.0"/>
<line x1="327.3" y1="323.58" x2="330.8" y2="323.58" stroke="#262626" stroke-width="1"/>
<text x="326.0" y="326.08" font-size="7.1" text-anchor="end" fill="#000" stroke="#000" stroke-width="0.22" textLength="14.3" lengthAdjust="spacingAndGlyphs">MRC</text>
<line x1="432.1" y1="323.58" x2="490.8" y2="323.58" stroke="#e0505f" stroke-width="0.8"/>
<line x1="432.1" y1="320.98" x2="432.1" y2="326.18" stroke="#e0505f" stroke-width="0.8"/>
<line x1="490.8" y1="320.98" x2="490.8" y2="326.18" stroke="#e0505f" stroke-width="0.8"/>
<line x1="461.5" y1="320.78" x2="461.5" y2="326.38" stroke="#e0505f" stroke-width="1.0"/>
</g>
</svg>
</body></html>
